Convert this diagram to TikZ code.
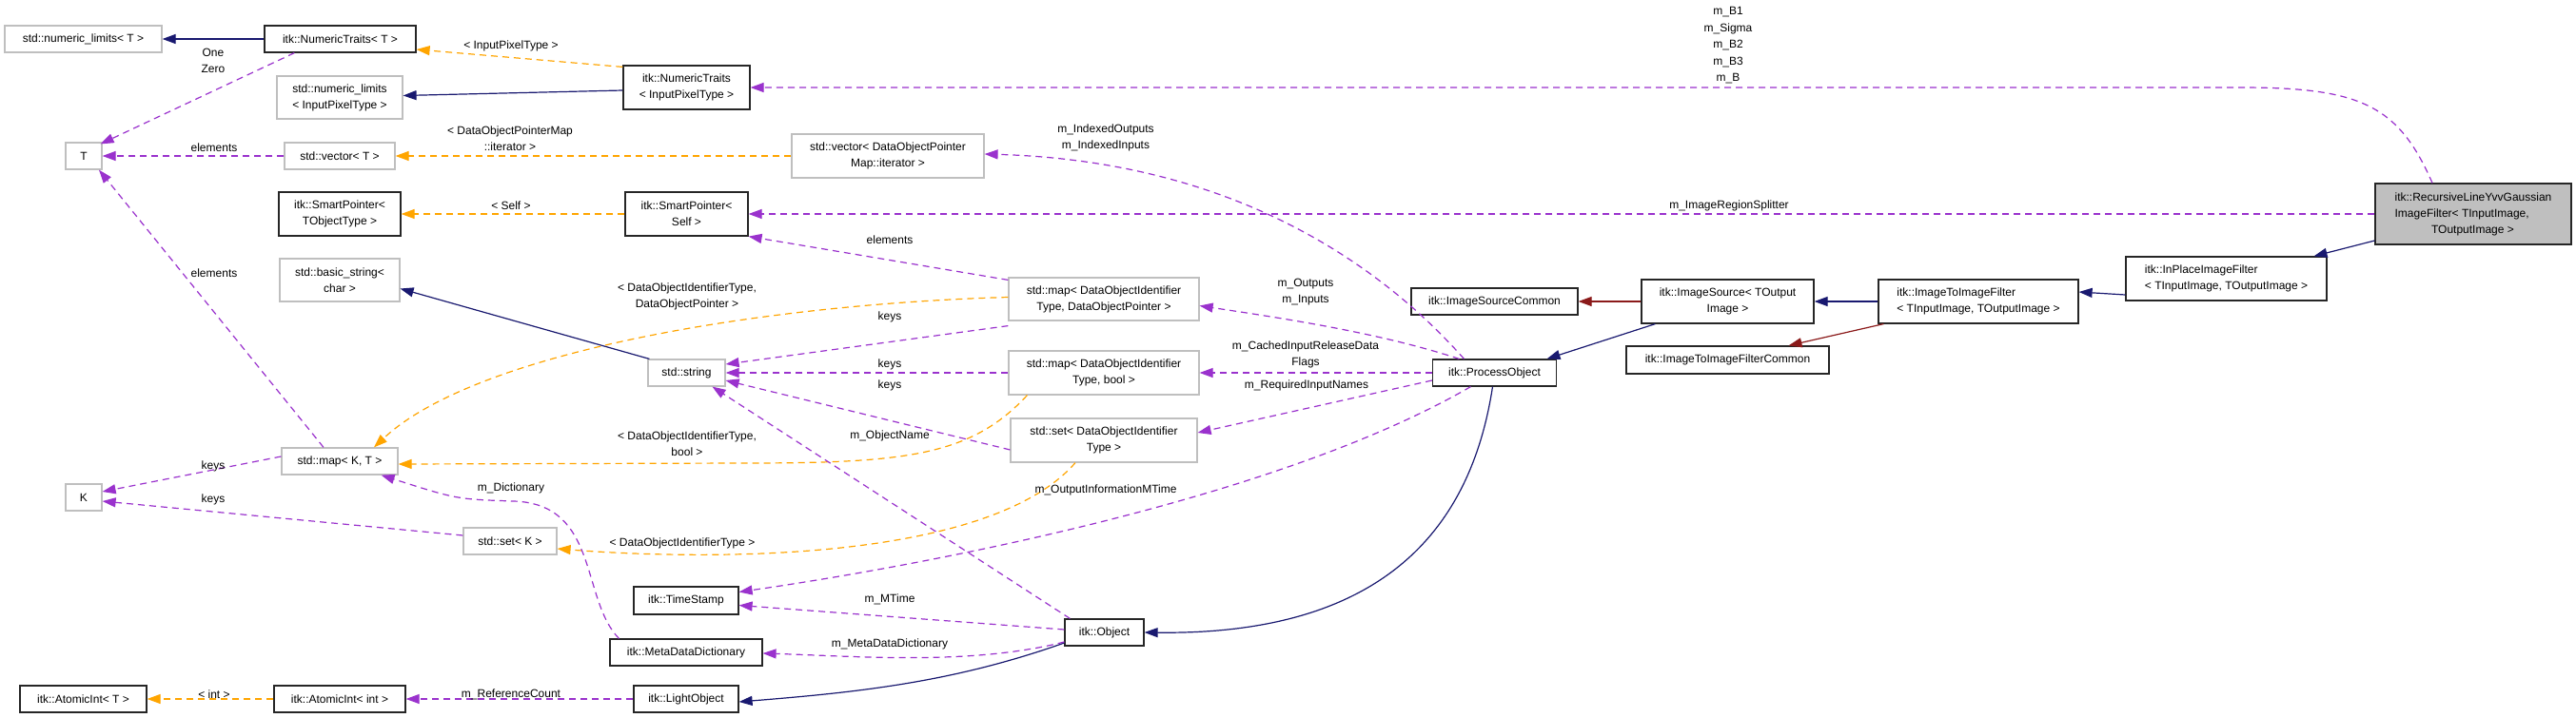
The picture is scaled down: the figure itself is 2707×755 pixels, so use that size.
\documentclass[tikz,border=0pt]{standalone}
\usepackage{fontspec}
\setmainfont{Liberation Sans}
\usetikzlibrary{arrows.meta}
\definecolor{cnavy}{HTML}{191970}
\definecolor{cred}{HTML}{8B1A1A}
\definecolor{corange}{HTML}{FFA500}
\definecolor{cpurple}{HTML}{9A32CD}
\definecolor{cgray}{HTML}{BFBFBF}
\tikzset{
  box/.style={draw, line width=1.2pt, inner sep=0pt, align=center, font=\fontsize{12}{17}\selectfont},
  gbox/.style={box, draw=cgray},
  bbox/.style={box, draw=black!85},
  tip/.style={-{Triangle[length=14pt,width=10pt]}},
  inh/.style={tip, draw=cnavy, line width=1.2pt},
  priv/.style={tip, draw=cred, line width=1.2pt},
  tmpl/.style={tip, draw=corange, line width=1.2pt, dash pattern=on 7pt off 5pt},
  use/.style={tip, draw=cpurple, line width=1.2pt, dash pattern=on 7pt off 5pt},
  lbl/.style={inner sep=0pt, align=center, font=\fontsize{12}{17}\selectfont}
}
\begin{document}
\begin{tikzpicture}[x=1pt,y=-1pt]
\useasboundingbox[fill=white] (0,0) rectangle (2707,755);
% nodes
\node[gbox, minimum width=165, minimum height=28] (nlT) at (87.5,41) {std::numeric\_limits< T >};
\node[bbox, minimum width=159, minimum height=28] (ntT) at (357.5,41) {itk::NumericTraits< T >};
\node[bbox, minimum width=133, minimum height=46] (ntI) at (721.5,92) {itk::NumericTraits\\< InputPixelType >};
\node[gbox, minimum width=132, minimum height=45] (nlI) at (357,102.5) {std::numeric\_limits\\< InputPixelType >};
\node[gbox, minimum width=38, minimum height=28] (T) at (88,164) {T};
\node[gbox, minimum width=116, minimum height=28] (vT) at (357,164) {std::vector< T >};
\node[gbox, minimum width=202, minimum height=46] (vD) at (933,164) {std::vector< DataObjectPointer\\Map::iterator >};
\node[bbox, minimum width=128, minimum height=46] (spT) at (357,225) {itk::SmartPointer<\\TObjectType >};
\node[bbox, minimum width=129, minimum height=46] (spS) at (721.5,225) {itk::SmartPointer<\\Self >};
\node[gbox, minimum width=126, minimum height=45] (bs) at (357,294.5) {std::basic\_string<\\char >};
\node[gbox, minimum width=81, minimum height=28] (str) at (721.5,392) {std::string};
\node[gbox, minimum width=200, minimum height=45] (mDD) at (1160,314.5) {std::map< DataObjectIdentifier\\Type, DataObjectPointer >};
\node[gbox, minimum width=200, minimum height=46] (mDB) at (1160,392) {std::map< DataObjectIdentifier\\Type, bool >};
\node[gbox, minimum width=196, minimum height=46] (sD) at (1160,463) {std::set< DataObjectIdentifier\\Type >};
\node[bbox, minimum width=175, minimum height=28] (isc) at (1570.5,317) {itk::ImageSourceCommon};
\node[bbox, minimum width=130, minimum height=28] (po) at (1570.5,392) {itk::ProcessObject};
\node[bbox, minimum width=83, minimum height=28] (obj) at (1160.5,665) {itk::Object};
\node[gbox, minimum width=122, minimum height=28] (mKT) at (357,485) {std::map< K, T >};
\node[gbox, minimum width=38, minimum height=28] (K) at (88,523) {K};
\node[gbox, minimum width=98, minimum height=28] (sK) at (536,569) {std::set< K >};
\node[bbox, minimum width=110, minimum height=29] (ts) at (721,631.5) {itk::TimeStamp};
\node[bbox, minimum width=160, minimum height=28] (mdd) at (721,686) {itk::MetaDataDictionary};
\node[bbox, minimum width=133, minimum height=28] (aT) at (87.5,735) {itk::AtomicInt< T >};
\node[bbox, minimum width=138, minimum height=28] (aI) at (357,735) {itk::AtomicInt< int >};
\node[bbox, minimum width=110, minimum height=28] (lo) at (721,735) {itk::LightObject};
\node[bbox, fill=cgray, minimum width=206, minimum height=64, align=left] (rec) at (2599,225) {itk::RecursiveLineYvvGaussian\\ImageFilter< TInputImage,\\\hspace*{3.2em}TOutputImage >};
\node[bbox, minimum width=211, minimum height=46, align=left] (ipf) at (2339.5,293) {itk::InPlaceImageFilter\\< TInputImage, TOutputImage >};
\node[bbox, minimum width=210, minimum height=46, align=left] (itf) at (2079,317) {itk::ImageToImageFilter\\< TInputImage, TOutputImage >};
\node[bbox, minimum width=181, minimum height=46] (is) at (1815.5,317) {itk::ImageSource< TOutput\\Image >};
\node[bbox, minimum width=213, minimum height=29] (itfc) at (1815.5,378.5) {itk::ImageToImageFilterCommon};
% inheritance
\draw[inh] (ntT.west) -- (nlT.east);
\draw[inh] ([yshift=-3pt]ntI.west) -- ([yshift=2pt]nlI.east);
\draw[inh] ([xshift=2pt]str.north west) -- ([yshift=-9pt]bs.east);
\draw[inh] ([xshift=15pt]is.south west) -- ([xshift=55pt]po.north);
\draw[inh] (itf.west) -- (is.east);
\draw[inh] ([yshift=-17pt]ipf.west) -- ([yshift=10pt]itf.east);
\draw[inh] ([yshift=-28pt]rec.west) -- ([xshift=92pt]ipf.north);
\draw[inh] ([xshift=-2pt]po.south) .. controls (1545,560) and (1450,668) .. (obj.east);
\draw[inh] ([yshift=-11pt]obj.west) .. controls (1000,718) and (900,728) .. ([yshift=-3pt]lo.east);
\draw[priv] (is.west) -- (isc.east);
\draw[priv] ([xshift=6pt]itf.south west) -- ([xshift=64pt]itfc.north);
% template
\draw[tmpl] ([yshift=-2pt]ntI.north west) -- ([yshift=-11pt]ntT.east);
\draw[tmpl] (vD.west) -- (vT.east);
\draw[tmpl] (spS.west) -- (spT.east);
\draw[tmpl] ([yshift=2pt]mDD.west) .. controls (800,320) and (500,370) .. ([xshift=36pt]mKT.north);
\draw[tmpl] ([xshift=20pt]mDB.south west) .. controls (1020,480) and (950,487) .. (780,487) -- ([yshift=-3pt]mKT.east);
\draw[tmpl] ([xshift=-30pt]sD.south) .. controls (1040,590) and (750,590) .. ([yshift=-8pt]sK.east);
\draw[tmpl] (aI.west) -- (aT.east);
% usage
\draw[use] ([xshift=32pt]ntT.south west) -- ([xshift=-2pt,yshift=-2pt]T.north east);
\draw[use] (vT.west) -- (T.east);
\draw[use] ([xshift=-17pt]mKT.north) -- ([xshift=16pt]T.south);
\draw[use] ([yshift=5pt]mKT.west) -- ([yshift=6pt]K.east);
\draw[use] ([yshift=6pt]sK.west) -- ([yshift=-4pt]K.east);
\draw[use] ([xshift=-43pt]rec.north) .. controls (2520,110) and (2480,92) .. (2354,92) -- (ntI.east);
\draw[use] ([xshift=-32pt]po.north) .. controls (1470,300) and (1320,170) .. ([yshift=2pt]vD.east);
\draw[use] (rec.west) -- (spS.east);
\draw[use] ([yshift=-3pt]mDD.north west) -- (spS.south east);
\draw[use] ([xshift=-37pt]po.north) .. controls (1450,350) and (1350,335) .. ([yshift=-7pt]mDD.east);
\draw[use] ([yshift=-5pt]mDD.south west) -- ([yshift=9pt]str.east);
\draw[use] (po.west) -- (mDB.east);
\draw[use] (mDB.west) -- (str.east);
\draw[use] ([yshift=-10pt]sD.west) -- ([yshift=-8pt]str.east);
\draw[use] ([yshift=-8pt]po.west) -- ([yshift=8pt]sD.east);
\draw[use] ([xshift=6pt]obj.north west) -- ([xshift=27pt]str.south);
\draw[use] ([xshift=-25pt]po.south) .. controls (1350,520) and (1000,590) .. ([yshift=9pt]ts.east);
\draw[use] ([yshift=3pt]obj.west) -- ([yshift=-5pt]ts.east);
\draw[use] ([yshift=-10pt]obj.west) .. controls (1020,700) and (900,690) .. ([yshift=-1pt]mdd.east);
\draw[use] ([xshift=10pt]mdd.north west) .. controls (610,630) and (630,530) .. (540,527) .. controls (480,525) .. ([xshift=-18pt]mKT.south east);
\draw[use] (lo.west) -- (aI.east);
% labels
\node[lbl] (l1) at (224,64) {One\\Zero};
\node[lbl] (l2) at (537,48) {< InputPixelType >};
\node[lbl] (l3) at (536,146) {< DataObjectPointerMap\\::iterator >};
\node[lbl] (l4) at (225,155) {elements};
\node[lbl] (l5) at (537,216) {< Self >};
\node[lbl] (l6) at (225,287) {elements};
\node[lbl] (l7) at (722,312) {< DataObjectIdentifierType,\\DataObjectPointer >};
\node[lbl] (l8) at (224,490) {keys};
\node[lbl] (l9) at (224,525) {keys};
\node[lbl] (l10) at (537,513) {m\_Dictionary};
\node[lbl] (l11) at (722,467) {< DataObjectIdentifierType,\\bool >};
\node[lbl] (l12) at (717,571) {< DataObjectIdentifierType >};
\node[lbl] (l13) at (225,730) {< int >};
\node[lbl] (l14) at (537,730) {m\_ReferenceCount};
\node[lbl] (l15) at (1162,145) {m\_IndexedOutputs\\m\_IndexedInputs};
\node[lbl] (l16) at (935,252) {elements};
\node[lbl] (l17) at (1372,307) {m\_Outputs\\m\_Inputs};
\node[lbl] (l18) at (935,333) {keys};
\node[lbl] (l19) at (1372,373) {m\_CachedInputReleaseData\\Flags};
\node[lbl] (l20) at (935,383) {keys};
\node[lbl] (l21) at (935,405) {keys};
\node[lbl] (l22) at (1373,405) {m\_RequiredInputNames};
\node[lbl] (l23) at (935,458) {m\_ObjectName};
\node[lbl] (l24) at (1162,515) {m\_OutputInformationMTime};
\node[lbl] (l25) at (935,630) {m\_MTime};
\node[lbl] (l26) at (935,677) {m\_MetaDataDictionary};
\node[lbl, font=\fontsize{12}{17.5}\selectfont] (l27) at (1816,48) {m\_B1\\m\_Sigma\\m\_B2\\m\_B3\\m\_B};
\node[lbl] (l28) at (1817,216) {m\_ImageRegionSplitter};
\end{tikzpicture}
\end{document}
